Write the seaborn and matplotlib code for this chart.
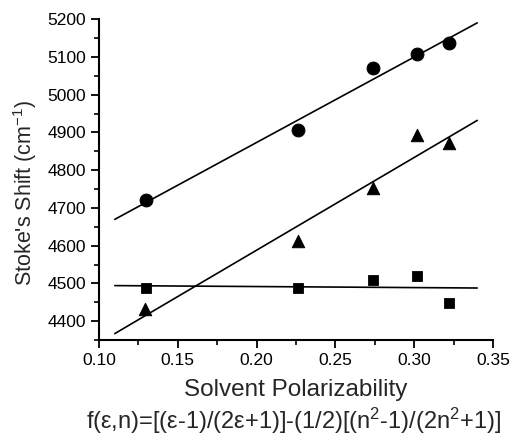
import numpy as np
import pandas as pd
import seaborn as sns
from matplotlib import pyplot as plt
from matplotlib.ticker import MultipleLocator

# solvent polarizability values (x) and Stokes shifts for the three series
pol_circle = [0.130, 0.226, 0.274, 0.302, 0.322]
shift_circle = [4720, 4907, 5070, 5108, 5137]

pol_triangle = [0.129, 0.226, 0.274, 0.302, 0.322]
shift_triangle = [4432, 4613, 4752, 4893, 4872]

pol_square = [0.130, 0.226, 0.274, 0.302, 0.322]
shift_square = [4488, 4487, 4508, 4520, 4449]

fit_range = [0.11, 0.34]

sns.set_theme(style="ticks")
plt.rcParams['font.family'] = ['Liberation Sans', 'DejaVu Sans']
plt.rcParams['mathtext.fontset'] = 'custom'
plt.rcParams['mathtext.rm'] = 'Liberation Sans'
plt.rcParams['mathtext.it'] = 'Liberation Sans'

fig = plt.figure(figsize=(5.13, 4.36), dpi=100)
ax = fig.add_axes([0.193, 0.22, 0.768, 0.736])

series = [
    (pol_circle, shift_circle, 'o', 85),
    (pol_triangle, shift_triangle, '^', 80),
    (pol_square, shift_square, 's', 55),
]

for xs, ys, marker, size in series:
    sns.scatterplot(x=xs, y=ys, marker=marker, s=size, color='black',
                    edgecolor='black', ax=ax, zorder=3)
    # linear fit, drawn over a fixed x range
    slope, intercept = np.polyfit(xs, ys, 1)
    fit = pd.DataFrame({'x': fit_range})
    fit['y'] = slope * fit['x'] + intercept
    sns.lineplot(data=fit, x='x', y='y', color='black', linewidth=1.2, ax=ax)

ax.set_xlim(0.10, 0.35)
ax.set_ylim(4350, 5200)
ax.xaxis.set_major_locator(MultipleLocator(0.05))
ax.xaxis.set_minor_locator(MultipleLocator(0.025))
ax.yaxis.set_major_locator(MultipleLocator(100))
ax.yaxis.set_minor_locator(MultipleLocator(50))
ax.xaxis.set_major_formatter(plt.FormatStrFormatter('%.2f'))

sns.despine(ax=ax)
for side in ['left', 'bottom']:
    ax.spines[side].set_linewidth(1.5)
    ax.spines[side].set_color('black')
ax.tick_params(which='major', length=6, width=1.3, labelsize=12.5, colors='black')
ax.tick_params(which='minor', length=3.5, width=1.2, colors='black')

ax.set_xlabel("Solvent Polarizability", fontsize=17.5)
ax.xaxis.set_label_coords(0.5, -0.12)
ax.set_ylabel("Stoke's Shift (cm$^{-1}$)", fontsize=15.5)
ax.yaxis.set_label_coords(-0.153, 0.46)

fig.text(0.573, 0.035, "f(ε,n)=[(ε-1)/(2ε+1)]-(1/2)[(n$^2$-1)/(2n$^2$+1)]",
         ha='center', va='center', fontsize=17)

fig.savefig('out.png', dpi=100)
